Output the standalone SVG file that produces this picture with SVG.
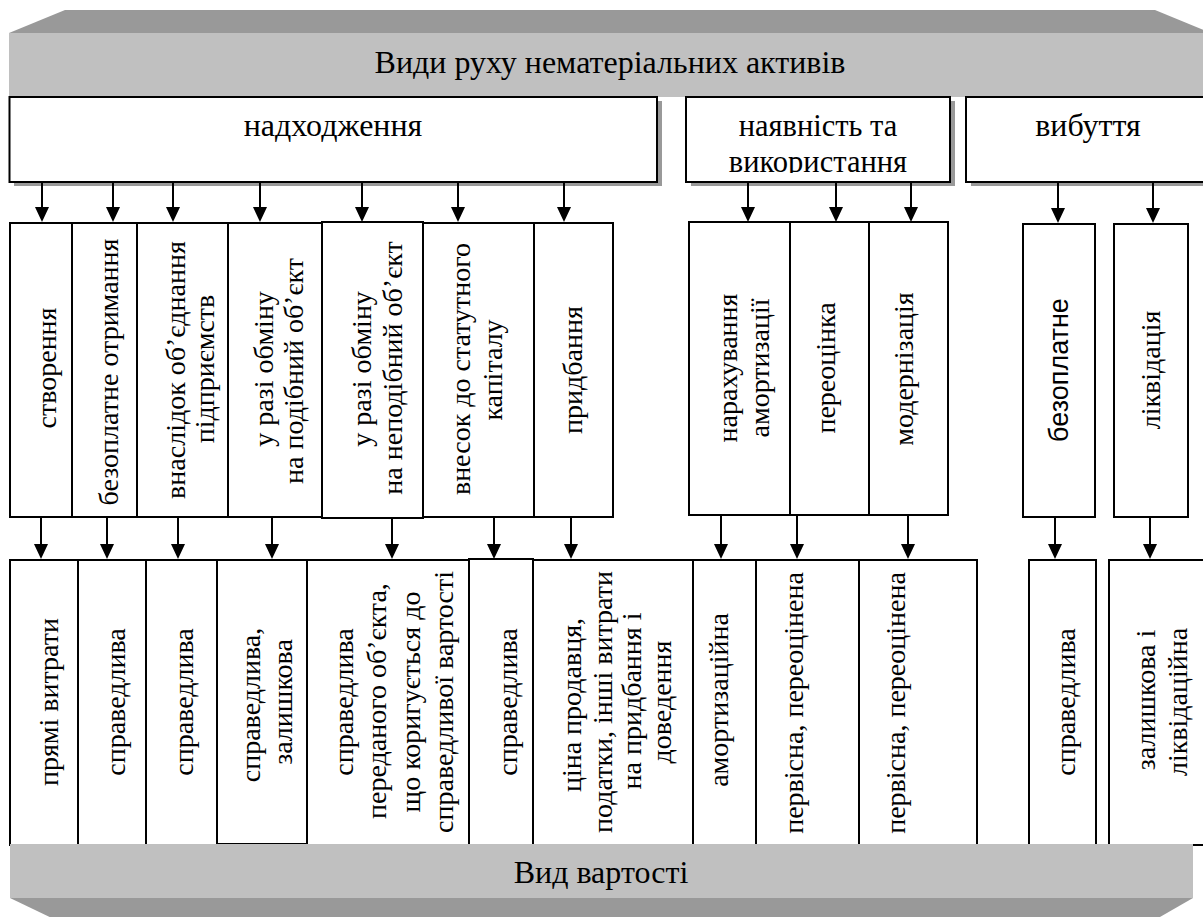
<svg xmlns="http://www.w3.org/2000/svg" width="1203" height="917" viewBox="0 0 1203 917">
<style>
.t{font-family:"Liberation Serif","Times New Roman",serif;font-size:28px;fill:#000}
.h{font-family:"Liberation Serif","Times New Roman",serif;font-size:32px;fill:#000}
.h2{font-family:"Liberation Serif","Times New Roman",serif;font-size:30.5px;fill:#000}
.s{font-family:"Liberation Sans",Arial,sans-serif;font-size:27px;fill:#000}
.box{fill:#fff;stroke:#000;stroke-width:2}
.sh{fill:#999}
.bar{fill:#c0c0c0}
.bev{fill:#999}
.c{stroke:#000;stroke-width:2;fill:none;marker-end:url(#ah)}
</style>
<defs>
<marker id="ah" markerUnits="userSpaceOnUse" viewBox="0 0 15 14" markerWidth="15" markerHeight="14" refX="0" refY="7" orient="auto">
<path d="M0,0 L15,7 L0,14 z" fill="#000"/>
</marker>
<clipPath id="clip2"><rect x="686" y="97" width="264" height="76"/></clipPath>
</defs>
<rect width="1203" height="917" fill="#fff"/>

<g id="title">
<polygon class="bev" points="65,10 1155,10 1211,33 9,33"/>
<rect class="bar" x="9" y="33" width="1202" height="64"/>
<text class="h" x="610" y="73" text-anchor="middle">Види руху нематеріальних активів</text>
</g>

<g id="n-nadkhodzhennia">
<rect class="sh" x="14" y="101" width="648" height="85"/>
<rect class="box" x="9.5" y="97" width="647.5" height="85"/>
<text class="h" x="333" y="136" text-anchor="middle">надходження</text>
</g>
<g id="n-naiavnist">
<rect class="sh" x="691" y="101" width="264" height="85"/>
<rect class="box" x="686" y="97" width="264" height="85"/>
<text class="h2" x="818" y="136" text-anchor="middle">наявність та</text>
<text class="h2" x="818" y="172" text-anchor="middle" clip-path="url(#clip2)">використання</text>
</g>
<g id="n-vybuttia">
<rect class="sh" x="971" y="101" width="250" height="85"/>
<rect class="box" x="966" y="97" width="250" height="85"/>
<text class="h" x="1088" y="136" text-anchor="middle">вибуття</text>
</g>

<g id="connectors">
<path class="c" d="M42,182V207"/>
<path class="c" d="M113,182V207"/>
<path class="c" d="M173,182V207"/>
<path class="c" d="M260,182V207"/>
<path class="c" d="M362,182V207"/>
<path class="c" d="M458,182V207"/>
<path class="c" d="M564,182V207"/>
<path class="c" d="M748,182V207"/>
<path class="c" d="M836,182V207"/>
<path class="c" d="M911,182V207"/>
<path class="c" d="M1058,182V208"/>
<path class="c" d="M1153,182V208"/>
<path class="c" d="M41,517V544"/>
<path class="c" d="M107,517V544"/>
<path class="c" d="M178,517V544"/>
<path class="c" d="M272,517V544"/>
<path class="c" d="M392,518V544"/>
<path class="c" d="M494,517V544"/>
<path class="c" d="M571,517V544"/>
<path class="c" d="M721,515V544"/>
<path class="c" d="M797,515V544"/>
<path class="c" d="M908,515V544"/>
<path class="c" d="M1055,517V544"/>
<path class="c" d="M1150,517V544"/>
</g>

<g id="m1"><rect class="box" x="10" y="223" width="62" height="294"/>
<text class="t" transform="rotate(-90)" text-anchor="middle"><tspan x="-368" y="56">створення</tspan></text></g>
<g id="m2"><rect class="box" x="72" y="223" width="65" height="294"/>
<text class="t" transform="rotate(-90)" text-anchor="middle"><tspan x="-372" y="118">безоплатне отримання</tspan></text></g>
<g id="m3"><rect class="box" x="137" y="223" width="91" height="294"/>
<text class="t" transform="rotate(-90)" text-anchor="middle"><tspan x="-370" y="185">внаслідок об’єднання</tspan><tspan x="-369" y="214">підприємств</tspan></text></g>
<g id="m4"><rect class="box" x="228" y="223" width="94" height="294"/>
<text class="t" transform="rotate(-90)" text-anchor="middle"><tspan x="-369" y="273">у разі обміну</tspan><tspan x="-371" y="303">на подібний об’єкт</tspan></text></g>
<g id="m5"><rect class="box" x="322" y="222" width="101" height="296"/>
<text class="t" transform="rotate(-90)" text-anchor="middle"><tspan x="-369" y="371">у разі обміну</tspan><tspan x="-368" y="402">на неподібний об’єкт</tspan></text></g>
<g id="m6"><rect class="box" x="423" y="223" width="111" height="294"/>
<text class="t" transform="rotate(-90)" text-anchor="middle"><tspan x="-369" y="470">внесок до статутного</tspan><tspan x="-370" y="502">капіталу</tspan></text></g>
<g id="m7"><rect class="box" x="534" y="223" width="79" height="294"/>
<text class="t" transform="rotate(-90)" text-anchor="middle"><tspan x="-370" y="582">придбання</tspan></text></g>
<g id="m8"><rect class="box" x="689" y="222" width="101" height="293"/>
<text class="t" transform="rotate(-90)" text-anchor="middle"><tspan x="-368" y="737">нарахування</tspan><tspan x="-368" y="769">амортизації</tspan></text></g>
<g id="m9"><rect class="box" x="790" y="222" width="79" height="293"/>
<text class="t" transform="rotate(-90)" text-anchor="middle"><tspan x="-368" y="835">переоцінка</tspan></text></g>
<g id="m10"><rect class="box" x="869" y="222" width="79" height="293"/>
<text class="t" transform="rotate(-90)" text-anchor="middle"><tspan x="-369" y="913">модернізація</tspan></text></g>
<g id="m11"><rect class="box" x="1023" y="224" width="72" height="293"/>
<text class="s" transform="rotate(-90)" text-anchor="middle"><tspan x="-370" y="1068">безоплатне</tspan></text></g>
<g id="m12"><rect class="box" x="1114" y="224" width="74" height="293"/>
<text class="t" transform="rotate(-90)" text-anchor="middle"><tspan x="-370" y="1160">ліквідація</tspan></text></g>

<g id="b1"><rect class="box" x="10" y="560" width="68" height="285"/>
<text class="t" transform="rotate(-90)" text-anchor="middle"><tspan x="-702" y="58">прямі витрати</tspan></text></g>
<g id="b2"><rect class="box" x="78" y="560" width="68" height="285"/>
<text class="t" transform="rotate(-90)" text-anchor="middle"><tspan x="-702" y="125">справедлива</tspan></text></g>
<g id="b3"><rect class="box" x="146" y="560" width="71" height="285"/>
<text class="t" transform="rotate(-90)" text-anchor="middle"><tspan x="-702" y="193">справедлива</tspan></text></g>
<g id="b4"><rect class="box" x="217" y="560" width="90" height="284"/>
<text class="t" transform="rotate(-90)" text-anchor="middle"><tspan x="-705" y="260">справедлива,</tspan><tspan x="-702" y="292">залишкова</tspan></text></g>
<g id="b5"><rect class="box" x="307" y="560" width="162" height="285"/>
<text class="t" transform="rotate(-90)" text-anchor="middle"><tspan x="-702" y="353">справедлива</tspan><tspan x="-701" y="386">переданого об’єкта,</tspan><tspan x="-702" y="420">що коригується до</tspan><tspan x="-702" y="453">справедливої вартості</tspan></text></g>
<g id="b6"><rect class="box" x="469" y="559" width="64" height="286"/>
<text class="t" transform="rotate(-90)" text-anchor="middle"><tspan x="-702" y="517">справедлива</tspan></text></g>
<g id="b7"><rect class="box" x="533" y="560" width="160" height="285"/>
<text class="t" transform="rotate(-90)" text-anchor="middle"><tspan x="-705" y="581">ціна продавця,</tspan><tspan x="-702" y="612">податки, інші витрати</tspan><tspan x="-701" y="641">на придбання і</tspan><tspan x="-702" y="671">доведення</tspan></text></g>
<g id="b8"><rect class="box" x="693" y="560" width="63" height="285"/>
<text class="t" transform="rotate(-90)" text-anchor="middle"><tspan x="-700" y="728">амортизаційна</tspan></text></g>
<g id="b9"><rect class="box" x="756" y="560" width="103" height="285"/>
<text class="t" transform="rotate(-90)" text-anchor="middle"><tspan x="-703" y="803">первісна, переоцінена</tspan></text></g>
<g id="b10"><rect class="box" x="859" y="560" width="118" height="285"/>
<text class="t" transform="rotate(-90)" text-anchor="middle"><tspan x="-703" y="905">первісна, переоцінена</tspan></text></g>
<g id="b11"><rect class="box" x="1029" y="560" width="67" height="285"/>
<text class="t" transform="rotate(-90)" text-anchor="middle"><tspan x="-702" y="1075">справедлива</tspan></text></g>
<g id="b12"><rect class="box" x="1109" y="560" width="110" height="285"/>
<text class="t" transform="rotate(-90)" text-anchor="middle"><tspan x="-700" y="1155">залишкова і</tspan><tspan x="-702" y="1187">ліквідаційна</tspan></text></g>

<g id="footer">
<rect class="bar" x="10" y="844" width="1183" height="54"/>
<polygon class="bev" points="10,898 1193,898 1153,921 58,921"/>
<text class="h" x="601" y="883" text-anchor="middle">Вид вартості</text>
</g>
</svg>
